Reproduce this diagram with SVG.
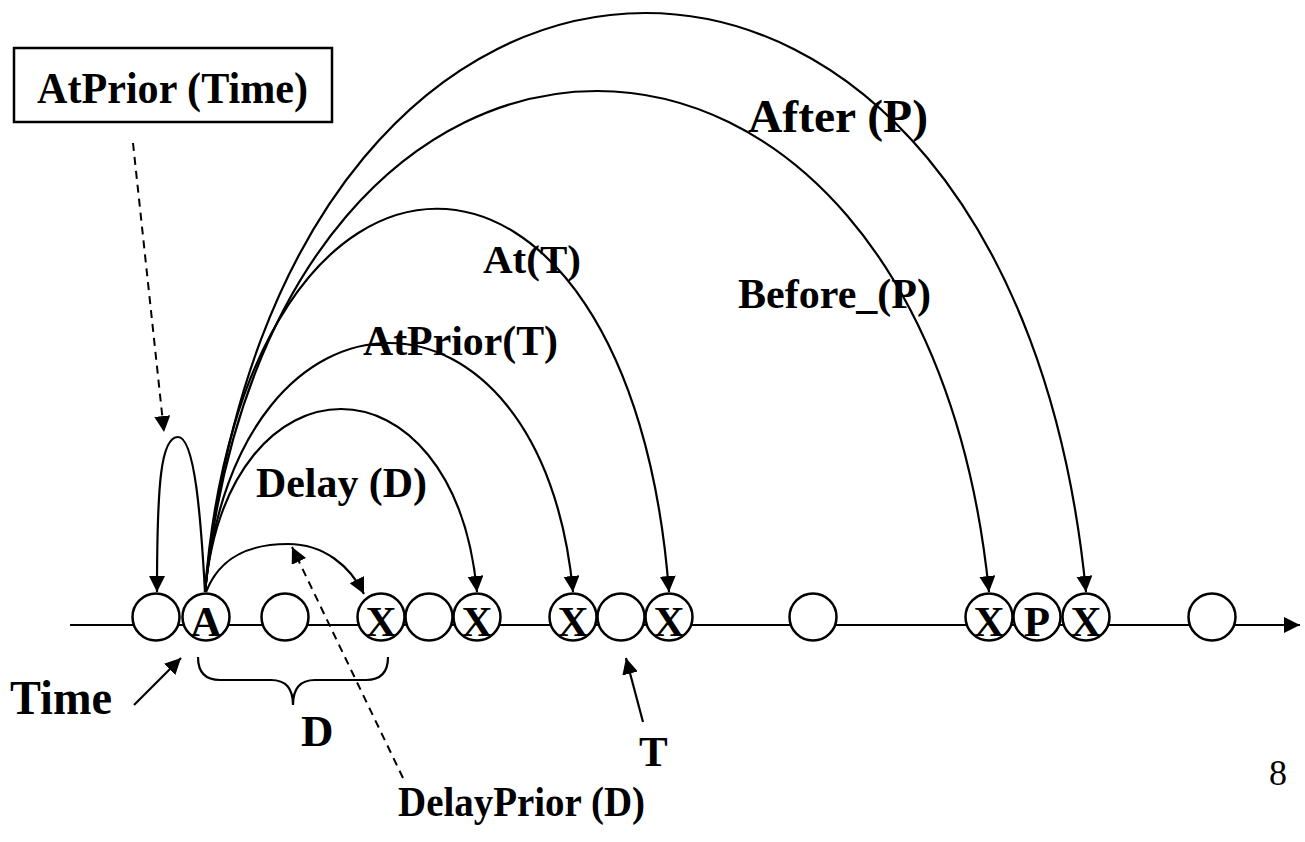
<svg xmlns="http://www.w3.org/2000/svg" width="1305" height="842" viewBox="0 0 1305 842">
  <style>
    .lbl { font-family: "Liberation Serif", "Times New Roman", serif; font-weight: bold; fill: #000; }
    .num { font-family: "Liberation Serif", "Times New Roman", serif; font-weight: normal; fill: #000; }
    .ev { fill: #fff; stroke: #000; stroke-width: 2.5; }
    .ln { fill: none; stroke: #000; stroke-width: 2.2; }
    .dash { fill: none; stroke: #000; stroke-width: 2; stroke-dasharray: 8 6; }
    .box { fill: #fff; stroke: #000; stroke-width: 2.5; }
  </style>
  <defs>
    <marker id="head" markerUnits="userSpaceOnUse" markerWidth="17" markerHeight="17" viewBox="0 0 17 17" refX="16" refY="8" orient="auto">
      <path d="M0,0 L16,8 L0,16 z" fill="#000"/>
    </marker>
  </defs>
  <rect width="1305" height="842" fill="#fff"/>

  <!-- time axis -->
  <g id="axis">
    <line class="ln" x1="70" y1="625" x2="1300" y2="625" stroke-width="2.5" marker-end="url(#head)"/>
  </g>

  <!-- connectors: arcs from A and pointer arrows -->
  <g id="connectors">
    <!-- AtPrior(Time) loop back to previous instant -->
    <path class="ln" d="M205,592 C201,520 195,437 178,437 C161,437 157,482 157,592" marker-end="url(#head)"/>
    <!-- DelayPrior arc -->
    <path class="ln" d="M206,592 C220,556 250,544 288,544 C324,544 350,566 364,594" marker-end="url(#head)"/>
    <!-- Delay (D) -->
    <path class="ln" d="M205,592 C228,348 454,348 477,592" marker-end="url(#head)"/>
    <!-- AtPrior(T) -->
    <path class="ln" d="M205,592 C236,260 542,260 573,592" marker-end="url(#head)"/>
    <!-- At(T) -->
    <path class="ln" d="M205,592 C244,81 630,81 669,592" marker-end="url(#head)"/>
    <!-- Before_(P) -->
    <path class="ln" d="M205,592 C272,-76 922,-76 989,592" marker-end="url(#head)"/>
    <!-- After (P) -->
    <path class="ln" d="M205,592 C280,-180 1011,-180 1086,592" marker-end="url(#head)"/>

    <!-- dashed pointers -->
    <line class="dash" x1="133" y1="143" x2="164" y2="432" marker-end="url(#head)"/>
    <line class="dash" x1="403" y1="778" x2="292" y2="547" marker-end="url(#head)"/>

    <!-- solid pointers -->
    <line class="ln" x1="134" y1="705" x2="181" y2="658" marker-end="url(#head)"/>
    <line class="ln" x1="643" y1="722" x2="626" y2="658" marker-end="url(#head)"/>

    <!-- span brace D -->
    <path class="ln" d="M198,657 Q198,680 220,680 L271,680 Q293,680 293,705 Q293,680 315,680 L366,680 Q388,680 388,657"/>
  </g>

  <!-- instants on the axis -->
  <g id="n1"><circle class="ev" cx="156" cy="617" r="23.5"/></g>
  <g id="nA"><circle class="ev" cx="206" cy="617" r="23.5"/><text class="lbl" x="206" y="636" font-size="43" text-anchor="middle">A</text></g>
  <g id="n3"><circle class="ev" cx="285" cy="617" r="23.5"/></g>
  <g id="nX1"><circle class="ev" cx="381" cy="617" r="23.5"/><text class="lbl" x="381" y="636" font-size="43" text-anchor="middle">X</text></g>
  <g id="n5"><circle class="ev" cx="429" cy="617" r="23.5"/></g>
  <g id="nX2"><circle class="ev" cx="477" cy="617" r="23.5"/><text class="lbl" x="477" y="636" font-size="43" text-anchor="middle">X</text></g>
  <g id="nX3"><circle class="ev" cx="573" cy="617" r="23.5"/><text class="lbl" x="573" y="636" font-size="43" text-anchor="middle">X</text></g>
  <g id="nT"><circle class="ev" cx="621" cy="617" r="23.5"/></g>
  <g id="nX4"><circle class="ev" cx="669" cy="617" r="23.5"/><text class="lbl" x="669" y="636" font-size="43" text-anchor="middle">X</text></g>
  <g id="n10"><circle class="ev" cx="813" cy="617" r="23.5"/></g>
  <g id="nX5"><circle class="ev" cx="989" cy="617" r="23.5"/><text class="lbl" x="989" y="636" font-size="43" text-anchor="middle">X</text></g>
  <g id="nP"><circle class="ev" cx="1037" cy="617" r="23.5"/><text class="lbl" x="1037" y="636" font-size="43" text-anchor="middle">P</text></g>
  <g id="nX6"><circle class="ev" cx="1086" cy="617" r="23.5"/><text class="lbl" x="1086" y="636" font-size="43" text-anchor="middle">X</text></g>
  <g id="n14"><circle class="ev" cx="1212" cy="617" r="23.5"/></g>

  <!-- boxed label -->
  <g id="atPriorTime">
    <rect class="box" x="14" y="48" width="318" height="74"/>
    <text class="lbl" x="37" y="103" font-size="44" textLength="271" lengthAdjust="spacingAndGlyphs">AtPrior (Time)</text>
  </g>

  <!-- arc labels -->
  <g id="labels">
    <text class="lbl" x="748" y="132" font-size="46" textLength="180" lengthAdjust="spacingAndGlyphs">After (P)</text>
    <text class="lbl" x="738" y="308" font-size="43" textLength="193" lengthAdjust="spacingAndGlyphs">Before_(P)</text>
    <text class="lbl" x="483" y="273" font-size="41">At(T)</text>
    <text class="lbl" x="363" y="355" font-size="43" textLength="195" lengthAdjust="spacingAndGlyphs">AtPrior(T)</text>
    <text class="lbl" x="256" y="497" font-size="43" textLength="171" lengthAdjust="spacingAndGlyphs">Delay (D)</text>
    <text class="lbl" x="10" y="714" font-size="48" textLength="102" lengthAdjust="spacingAndGlyphs">Time</text>
    <text class="lbl" x="301" y="746" font-size="45">D</text>
    <text class="lbl" x="639" y="766" font-size="43">T</text>
    <text class="lbl" x="398" y="816" font-size="42" textLength="247" lengthAdjust="spacingAndGlyphs">DelayPrior (D)</text>
    <text class="num" x="1278" y="785" font-size="36" text-anchor="middle">8</text>
  </g>
</svg>
